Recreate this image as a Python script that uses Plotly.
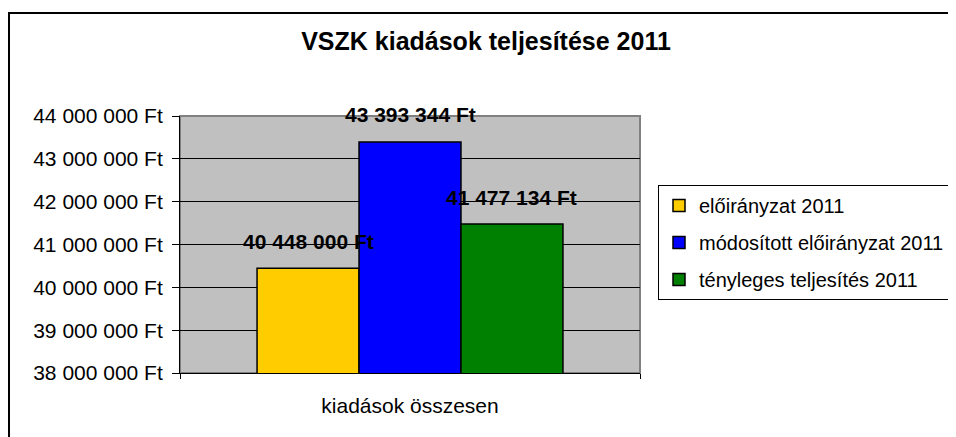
import plotly.graph_objects as go

categories = ["kiadások összesen"]
series_names = ["előirányzat 2011", "módosított előirányzat 2011", "tényleges teljesítés 2011"]
series_values = [40448000, 43393344, 41477134]
series_colors = ["#FFCC00", "#0000FF", "#008000"]
y_ticks = [38000000, 39000000, 40000000, 41000000, 42000000, 43000000, 44000000]


def huf(v):
    return f"{v:,}".replace(",", " ") + " Ft"


y_tick_labels = [huf(v) for v in y_ticks]

FONT = "Liberation Sans, Arial, sans-serif"
bargap = 0.335

fig = go.Figure()
for i, (name, val, col) in enumerate(zip(series_names, series_values, series_colors)):
    fig.add_trace(go.Bar(
        x=categories, y=[val], name=name, legendgroup=name,
        marker=dict(color=col, line=dict(color="black", width=1.5)),
    ))

bar_w = (1 - bargap) / len(series_values)
annotations = []
for i, val in enumerate(series_values):
    annotations.append(dict(
        x=(i - (len(series_values) - 1) / 2) * bar_w, y=val, xref="x", yref="y",
        text=f"<b>{huf(val)}</b>", showarrow=False, yanchor="middle", yshift=27,
        font=dict(family=FONT, size=21, color="black"),
    ))

# the page body adds an 8px offset; work in page pixel coordinates minus that offset
OFF = 8
W, H = 956, 437
L, T = 180 - OFF, 116 - OFF
R = W - (640 - OFF)
B = H - (373 - OFF)
pw, ph = W - L - R, H - T - B


def px_x(p):
    return (p - OFF - L) / pw


def px_y(p):
    return (H - B - (p - OFF)) / ph


shapes = [
    dict(type="rect", xref="paper", yref="paper", x0=px_x(9), x1=px_x(975), y0=px_y(455), y1=px_y(13),
         line=dict(color="black", width=2), fillcolor="rgba(0,0,0,0)", layer="above"),
    dict(type="rect", xref="paper", yref="paper", x0=0, x1=1, y0=0, y1=1,
         line=dict(color="#808080", width=2), fillcolor="rgba(0,0,0,0)", layer="below"),
]

fig.update_layout(
    width=W, height=H,
    margin=dict(l=L, r=R, t=T, b=B, autoexpand=False),
    paper_bgcolor="white", plot_bgcolor="#C0C0C0",
    barmode="group", bargap=bargap, bargroupgap=0,
    title=dict(text="<b>VSZK kiadások teljesítése 2011</b>", x=(486 - OFF) / W, xanchor="center",
               y=1 - (41 - OFF) / H, yanchor="middle", xref="container", yref="container",
               font=dict(family=FONT, size=25, color="black")),
    font=dict(family=FONT, size=20, color="black"),
    showlegend=True,
    legend=dict(x=px_x(658), y=px_y(185), xanchor="left", yanchor="top",
                bordercolor="black", borderwidth=1, bgcolor="white",
                font=dict(family=FONT, size=20, color="black"),
                traceorder="grouped", tracegroupgap=8),
    annotations=annotations,
    shapes=shapes,
)
fig.update_yaxes(
    range=[y_ticks[0], y_ticks[-1]], tickmode="array", tickvals=y_ticks, ticktext=y_tick_labels,
    showgrid=True, gridcolor="black", gridwidth=1,
    showline=True, linecolor="black", linewidth=1,
    ticks="outside", ticklen=7, tickcolor="black", ticklabelstandoff=5,
    zeroline=False, tickfont=dict(family=FONT, size=21, color="black"),
)
fig.update_xaxes(
    showline=True, linecolor="black", linewidth=1,
    ticks="outside", tickson="boundaries", ticklen=5, tickcolor="black",
    ticklabelstandoff=14, tickfont=dict(family=FONT, size=21, color="black"),
)

fig.write_html("out.html")
